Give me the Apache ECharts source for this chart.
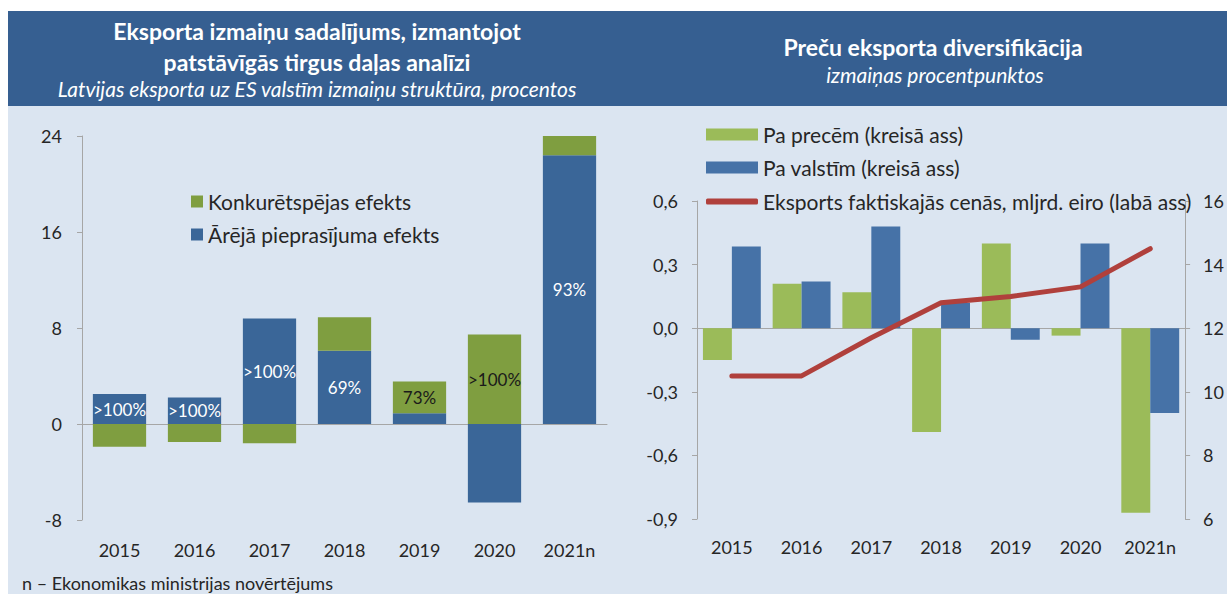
<!DOCTYPE html>
<html lang="lv">
<head>
<meta charset="UTF-8">
<title>Eksporta izmaiņas un diversifikācija</title>
<style>
html,body{margin:0;padding:0;background:#fff;}
#chart{width:1227px;height:594px;}
</style>
</head>
<body>
<div id="chart"></div>
<script src="https://cdn.jsdelivr.net/npm/echarts@6/dist/echarts.min.js"></script>
<script>
// kreisais grafiks - tirgus daļas analīze
var years = ['2015', '2016', '2017', '2018', '2019', '2020', '2021n'];
var konkurence = [-1.9, -1.5, -1.6, 2.8, 2.65, 7.45, 1.65];
var pieprasijums = [2.5, 2.2, 8.8, 6.1, 0.9, -6.55, 22.4];
var pieprLabels = ['>100%', '>100%', '>100%', '69%', '', '', '93%'];
var konkLabels = ['', '', '', '', '73%', '>100%', ''];
var leftTicks = [-8, 0, 8, 16, 24];

// labais grafiks - diversifikācija
var paPrecem = [-0.15, 0.21, 0.17, -0.49, 0.40, -0.035, -0.87];
var paValstim = [0.385, 0.22, 0.48, 0.12, -0.055, 0.40, -0.40];
var eksports = [10.5, 10.5, 11.7, 12.8, 13.0, 13.3, 14.5];
var pctTicks = [-0.9, -0.6, -0.3, 0.0, 0.3, 0.6];
var eurTicks = [6, 8, 10, 12, 14, 16];

var font = 'Lato, "Open Sans", sans-serif';
var txt = '#262626';
var axisGray = '#A6A6A6';

var chart = echarts.init(document.getElementById('chart'), null, {renderer: 'svg'});

function axisStyle(margin) {
    return {
        axisLine: {show: true, lineStyle: {color: axisGray}},
        axisTick: {show: true, length: 5, lineStyle: {color: axisGray}},
        splitLine: {show: false},
        axisLabel: {margin: margin, fontSize: 18, color: txt, fontFamily: font}
    };
}

function title(x, y, text, f) {
    return {type: 'text', x: x, y: y, z: 5,
        style: {text: text, font: f, fill: '#fff', textAlign: 'center', textVerticalAlign: 'middle'}};
}

var option = {
    animation: false,
    backgroundColor: '#fff',
    textStyle: {fontFamily: font},
    graphic: [
        {type: 'rect', z: -10, shape: {x: 8, y: 11, width: 1219, height: 583}, style: {fill: '#DBE5F1'}},
        {type: 'rect', z: -9, shape: {x: 8, y: 11, width: 1219, height: 95}, style: {fill: '#365F91'}},
        title(317, 31, 'Eksporta izmaiņu sadalījums, izmantojot', 'bold 23px Lato'),
        title(317, 62, 'patstāvīgās tirgus daļas analīzi', 'bold 23px Lato'),
        title(317, 88, 'Latvijas eksporta uz ES valstīm izmaiņu struktūra, procentos', 'italic 21px Lato'),
        title(933, 47, 'Preču eksporta diversifikācija', 'bold 23px Lato'),
        title(935, 74, 'izmaiņas procentpunktos', 'italic 21px Lato'),
        {type: 'text', x: 22, y: 583, z: 5,
            style: {text: 'n – Ekonomikas ministrijas novērtējums', font: '18px Lato', fill: txt, textVerticalAlign: 'middle'}}
    ],
    legend: [{
        data: ['Konkurētspējas efekts', 'Ārējā pieprasījuma efekts'],
        orient: 'vertical', left: 186, top: 186, icon: 'rect',
        itemWidth: 12, itemHeight: 12, itemGap: 12,
        textStyle: {fontSize: 21, color: txt}
    }, {
        data: ['Pa precēm (kreisā ass)', 'Pa valstīm (kreisā ass)'],
        orient: 'vertical', left: 701, top: 119, icon: 'rect',
        itemWidth: 52, itemHeight: 12, itemGap: 12,
        textStyle: {fontSize: 21, color: txt}
    }, {
        data: ['Eksports faktiskajās cenās, mljrd. eiro (labā ass)'],
        left: 701, top: 186, icon: 'roundRect',
        itemWidth: 52, itemHeight: 6,
        textStyle: {fontSize: 21, color: txt}
    }],
    grid: [
        {left: 82, top: 136, width: 525, height: 384},
        {left: 697, top: 201, width: 498, height: 318}
    ],
    xAxis: [
        {type: 'category', gridIndex: 0, data: years,
            axisLine: {onZero: true, lineStyle: {color: axisGray}},
            axisTick: {length: 5, lineStyle: {color: axisGray}},
            axisLabel: {show: false}},
        {type: 'category', gridIndex: 0, data: years, position: 'bottom',
            axisLine: {show: false, onZero: false}, axisTick: {show: false},
            axisLabel: {margin: 21, fontSize: 18, color: txt}},
        {type: 'category', gridIndex: 1, data: years,
            axisLine: {onZero: true, onZeroAxisIndex: 1, lineStyle: {color: axisGray}},
            axisTick: {length: 5, lineStyle: {color: axisGray}},
            axisLabel: {show: false}},
        {type: 'category', gridIndex: 1, data: years, position: 'bottom',
            axisLine: {show: false, onZero: false}, axisTick: {show: false},
            axisLabel: {margin: 19, fontSize: 18, color: txt}}
    ],
    yAxis: [
        Object.assign({type: 'value', gridIndex: 0,
            min: leftTicks[0], max: leftTicks[leftTicks.length - 1], interval: 8}, axisStyle(20)),
        Object.assign({type: 'value', gridIndex: 1,
            min: pctTicks[0], max: pctTicks[pctTicks.length - 1], interval: 0.3}, axisStyle(19)),
        Object.assign({type: 'value', gridIndex: 1, position: 'right',
            min: eurTicks[0], max: eurTicks[eurTicks.length - 1], interval: 2}, axisStyle(18))
    ],
    series: [{
        name: 'Ārējā pieprasījuma efekts', type: 'bar', stack: 'kopa',
        xAxisIndex: 0, yAxisIndex: 0, barCategoryGap: '29%',
        itemStyle: {color: '#3A6698'},
        label: {show: true, position: 'inside', color: '#fff', fontSize: 17,
            formatter: function (p) { return pieprLabels[p.dataIndex]; }},
        data: pieprasijums
    }, {
        name: 'Konkurētspējas efekts', type: 'bar', stack: 'kopa',
        xAxisIndex: 0, yAxisIndex: 0, barCategoryGap: '29%',
        itemStyle: {color: '#7F9E40'},
        label: {show: true, position: 'inside', color: '#1a1a1a', fontSize: 17,
            formatter: function (p) { return konkLabels[p.dataIndex]; }},
        data: konkurence
    }, {
        name: 'Pa precēm (kreisā ass)', type: 'bar',
        xAxisIndex: 2, yAxisIndex: 1, barGap: 0, barCategoryGap: '17%',
        itemStyle: {color: '#9BBB59'},
        data: paPrecem
    }, {
        name: 'Pa valstīm (kreisā ass)', type: 'bar',
        xAxisIndex: 2, yAxisIndex: 1, barGap: 0, barCategoryGap: '17%',
        itemStyle: {color: '#4672A7'},
        data: paValstim
    }, {
        name: 'Eksports faktiskajās cenās, mljrd. eiro (labā ass)', type: 'line',
        xAxisIndex: 2, yAxisIndex: 2, symbol: 'none', z: 5,
        lineStyle: {width: 5, color: '#B0403C', cap: 'round', join: 'round'},
        itemStyle: {color: '#B0403C'},
        data: eksports
    }]
};

option.yAxis[1].axisLabel.formatter = function (v) {
    return v.toFixed(1).replace('.', ',');
};

chart.setOption(option);
</script>
</body>
</html>
